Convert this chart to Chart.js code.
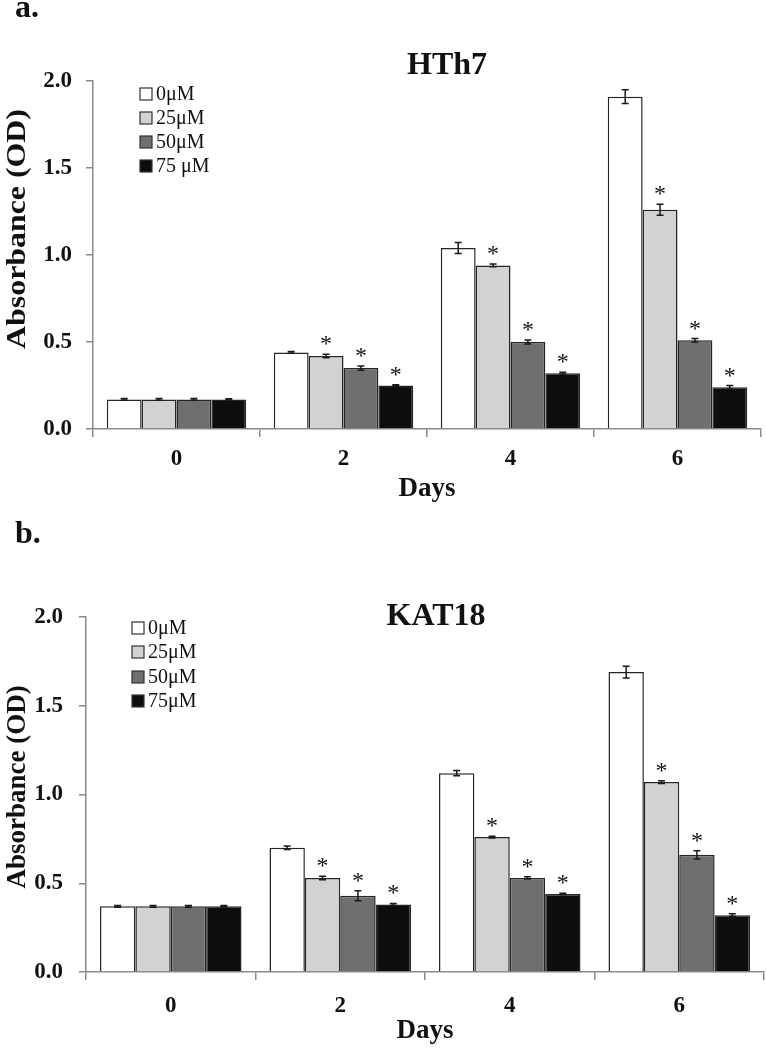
<!DOCTYPE html>
<html>
<head>
<meta charset="utf-8">
<script src="https://cdn.jsdelivr.net/npm/chart.js@4.4.1/dist/chart.umd.min.js"></script>
<style>
  body { margin: 0; background: #fff; }
  .panel { position: absolute; left: 0; width: 766px; }
</style>
</head>
<body>
<div class="panel" style="top:0;height:515px"><canvas id="chartA"></canvas></div>
<div class="panel" style="top:515px;height:535px"><canvas id="chartB"></canvas></div>
<script>
// x categories and legend labels
const days = ['0', '2', '4', '6'];
const seriesA = ['0μM', '25μM', '50μM', '75 μM'];
const seriesB = ['0μM', '25μM', '50μM', '75μM'];

// HTh7 absorbance (OD), one array per dose
const hth7_0 = [0.17, 0.44, 1.04, 1.91];
const hth7_25 = [0.17, 0.42, 0.94, 1.26];
const hth7_50 = [0.17, 0.35, 0.50, 0.51];
const hth7_75 = [0.17, 0.25, 0.32, 0.24];
// HTh7 error (+/-)
const hth7Err_0 = [0.005, 0.005, 0.032, 0.04];
const hth7Err_25 = [0.005, 0.01, 0.008, 0.032];
const hth7Err_50 = [0.005, 0.012, 0.012, 0.01];
const hth7Err_75 = [0.004, 0.004, 0.006, 0.01];

// KAT18 absorbance (OD)
const kat18_0 = [0.37, 0.70, 1.12, 1.69];
const kat18_25 = [0.37, 0.53, 0.76, 1.07];
const kat18_50 = [0.37, 0.43, 0.53, 0.66];
const kat18_75 = [0.37, 0.38, 0.44, 0.32];
const kat18Err_0 = [0.005, 0.01, 0.015, 0.033];
const kat18Err_25 = [0.005, 0.01, 0.005, 0.008];
const kat18Err_50 = [0.005, 0.028, 0.006, 0.023];
const kat18Err_75 = [0.004, 0.006, 0.004, 0.008];

// significance marks (*) per dose
const sig_0 = [0, 0, 0, 0];
const sig_25 = [0, 1, 1, 1];
const sig_50 = [0, 1, 1, 1];
const sig_75 = [0, 1, 1, 1];

const yTickStep = 0.5;
const yMax = 2.0;

const fills = ['#ffffff', '#d2d2d2', '#6f6f6f', '#0d0d0d'];
const SERIF = "'Liberation Serif', 'Times New Roman', serif";
Chart.defaults.font.family = SERIF;

// error bars, asterisks, titles and the inset legend
const decor = {
  id: 'decor',
  afterDatasetsDraw(chart, args, o) {
    const ctx = chart.ctx;
    const y = chart.scales.y;
    ctx.save();
    chart.data.datasets.forEach((ds, i) => {
      chart.getDatasetMeta(i).data.forEach((bar, j) => {
        const v = ds.data[j], e = ds.err[j];
        const top = y.getPixelForValue(v + e), bot = y.getPixelForValue(v - e);
        ctx.strokeStyle = '#1a1a1a';
        ctx.lineWidth = 1.5;
        ctx.beginPath();
        ctx.moveTo(bar.x, top); ctx.lineTo(bar.x, bot);
        ctx.moveTo(bar.x - 3.5, top); ctx.lineTo(bar.x + 3.5, top);
        ctx.moveTo(bar.x - 3.5, bot); ctx.lineTo(bar.x + 3.5, bot);
        ctx.stroke();
        if (ds.sig[j]) {
          ctx.fillStyle = '#111';
          ctx.font = '24px ' + SERIF;
          ctx.textAlign = 'center';
          ctx.textBaseline = 'alphabetic';
          ctx.fillText('*', bar.x, top - 3);
        }
      });
    });
    ctx.restore();
  },
  afterDraw(chart, args, o) {
    const ctx = chart.ctx;
    ctx.save();
    ctx.fillStyle = '#111';
    ctx.textBaseline = 'alphabetic';
    ctx.font = 'bold 32px ' + SERIF;
    ctx.textAlign = 'left';
    ctx.fillText(o.letter, 15, o.letterY);
    ctx.textAlign = 'center';
    ctx.fillText(o.title, o.titleX, o.titleY);

    // rotated y title
    ctx.save();
    ctx.translate(25, o.yTitleY);
    ctx.rotate(-Math.PI / 2);
    ctx.scale(o.yTitleStretch, 1);
    ctx.font = 'bold 27px ' + SERIF;
    ctx.fillText('Absorbance (OD)', 0, 0);
    ctx.restore();

    // legend
    ctx.font = '20px ' + SERIF;
    ctx.textAlign = 'left';
    ctx.textBaseline = 'middle';
    chart.data.datasets.forEach((ds, i) => {
      const cy = o.legendY[i];
      ctx.fillStyle = ds.backgroundColor;
      ctx.fillRect(o.legendX, cy - 6, 12, 12);
      ctx.strokeStyle = '#333';
      ctx.lineWidth = 1.2;
      ctx.strokeRect(o.legendX, cy - 6, 12, 12);
      ctx.fillStyle = '#111';
      ctx.fillText(ds.label, o.legendX + 16, cy + 1);
    });
    ctx.restore();
  }
};

function makeChart(id, labels, values, errs, box) {
  return new Chart(document.getElementById(id), {
    type: 'bar',
    data: {
      labels: days,
      datasets: labels.map((lab, i) => ({
        label: lab,
        data: values[i],
        err: errs[i],
        sig: [sig_0, sig_25, sig_50, sig_75][i],
        backgroundColor: fills[i],
        borderColor: '#262626',
        borderWidth: 1.5,
        borderSkipped: 'bottom',
        barPercentage: 1.0,
        categoryPercentage: 0.835
      }))
    },
    options: {
      responsive: true,
      maintainAspectRatio: false,
      animation: false,
      layout: { padding: { top: box.top, right: box.right, left: 0, bottom: 0 } },
      plugins: {
        legend: { display: false },
        tooltip: { enabled: false },
        decor: box.decor
      },
      scales: {
        x: {
          offset: true,
          grid: { drawOnChartArea: false, tickLength: 8, color: '#8a8a8a', lineWidth: 1.5 },
          border: { color: '#8a8a8a', width: 1.5 },
          ticks: { color: '#111', font: { size: 23, weight: 'bold' }, padding: box.xPad },
          title: { display: true, text: 'Days', color: '#111', font: { size: 27, weight: 'bold' }, padding: { top: 0, bottom: box.daysPad } },
          afterFit: s => { s.height = box.xHeight; }
        },
        y: {
          min: 0,
          max: yMax,
          grid: { drawOnChartArea: false, tickLength: 7, color: '#8a8a8a', lineWidth: 1.5 },
          border: { color: '#8a8a8a', width: 1.5 },
          ticks: {
            stepSize: yTickStep,
            color: '#111',
            font: { size: 23, weight: 'bold' },
            padding: box.yPad,
            callback: v => v.toFixed(1)
          },
          afterFit: s => { s.width = box.yWidth; }
        }
      }
    },
    plugins: [decor]
  });
}

makeChart('chartA', seriesA,
  [hth7_0, hth7_25, hth7_50, hth7_75],
  [hth7Err_0, hth7Err_25, hth7Err_50, hth7Err_75],
  {
    top: 81, right: 5, yWidth: 93, xHeight: 86, yPad: 14, xPad: 8, daysPad: 10,
    decor: {
      letter: 'a.', letterY: 17, title: 'HTh7', titleX: 447, titleY: 74,
      yTitleY: 229, yTitleStretch: 1.18,
      legendX: 140, legendY: [94, 118, 142, 166]
    }
  });

makeChart('chartB', seriesB,
  [kat18_0, kat18_25, kat18_50, kat18_75],
  [kat18Err_0, kat18Err_25, kat18Err_50, kat18Err_75],
  {
    top: 102, right: 2, yWidth: 86, xHeight: 78, yPad: 16, xPad: 12, daysPad: 3,
    decor: {
      letter: 'b.', letterY: 28, title: 'KAT18', titleX: 436, titleY: 110,
      yTitleY: 272, yTitleStretch: 1.0,
      legendX: 132, legendY: [113, 137, 162, 186]
    }
  });
</script>
</body>
</html>
